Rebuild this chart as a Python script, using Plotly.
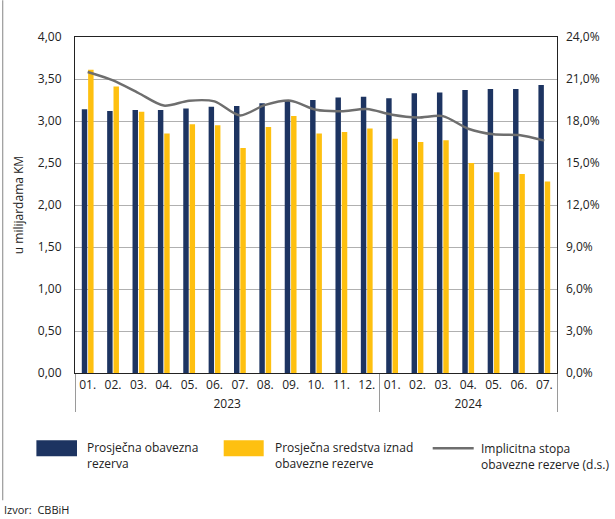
import plotly.graph_objects as go

years = ["2023"] * 12 + ["2024"] * 7
months = ["01.", "02.", "03.", "04.", "05.", "06.", "07.", "08.", "09.", "10.", "11.", "12.",
          "01.", "02.", "03.", "04.", "05.", "06.", "07."]

obavezna = [3.14, 3.12, 3.13, 3.13, 3.15, 3.17, 3.18, 3.21, 3.24, 3.25, 3.28, 3.29,
            3.27, 3.33, 3.34, 3.37, 3.38, 3.38, 3.43]
iznad = [3.61, 3.41, 3.11, 2.85, 2.96, 2.95, 2.68, 2.93, 3.06, 2.85, 2.87, 2.91,
         2.79, 2.75, 2.77, 2.50, 2.39, 2.37, 2.28]
stopa = [21.5, 20.9, 20.0, 19.1, 19.45, 19.4, 18.4, 19.15, 19.45, 18.8, 18.7, 18.85,
         18.45, 18.25, 18.35, 17.45, 17.05, 17.0, 16.6]

NAVY = "#1d3461"
GOLD = "#fec010"
GREY = "#6e6e6e"
FONT = "Open Sans"

x = [years, months]

fig = go.Figure()
fig.add_trace(go.Bar(x=x, y=obavezna, name="Prosječna obavezna rezerva",
                     marker=dict(color=NAVY, line=dict(width=0))))
fig.add_trace(go.Bar(x=x, y=iznad, name="Prosječna sredstva iznad obavezne rezerve",
                     marker=dict(color=GOLD, line=dict(width=0))))
fig.add_trace(go.Scatter(x=x, y=[v / 100 for v in stopa], yaxis="y2", mode="lines",
                         name="Implicitna stopa obavezne rezerve (d.s.)",
                         line=dict(color=GREY, width=2.5, shape="spline", smoothing=0.8)))

# paper-coordinate helpers (plot area: x 75..557, y 37..373 px)
L, R, T, B = 75.3, 557.3, 36.7, 372.7
def px(xp):
    return (xp - L) / (R - L)
def py(yp):
    return (B - yp) / (B - T)

shapes = [
    dict(type="line", xref="paper", yref="paper", x0=px(3), x1=px(3), y0=py(0), y1=py(500),
         line=dict(color="#9a9a9a", width=1.2)),
    dict(type="rect", xref="paper", yref="paper", x0=px(36.7), x1=px(77.3), y0=py(440), y1=py(456),
         fillcolor=NAVY, line=dict(width=0)),
    dict(type="rect", xref="paper", yref="paper", x0=px(224), x1=px(264), y0=py(440), y1=py(456),
         fillcolor=GOLD, line=dict(width=0)),
    dict(type="line", xref="paper", yref="paper", x0=px(433), x1=px(474), y0=py(448), y1=py(448),
         line=dict(color=GREY, width=2.5)),
]
ann_font = dict(family=FONT, size=12, color="#222222")
annotations = [
    dict(xref="paper", yref="paper", x=px(85), y=py(455), xanchor="left", yanchor="middle",
         text="Prosječna obavezna<br>rezerva", showarrow=False, align="left", font=ann_font),
    dict(xref="paper", yref="paper", x=px(273), y=py(455), xanchor="left", yanchor="middle",
         text="Prosječna sredstva iznad<br>obavezne rezerve", showarrow=False, align="left", font=ann_font),
    dict(xref="paper", yref="paper", x=px(479), y=py(456), xanchor="left", yanchor="middle",
         text="Implicitna stopa<br>obavezne rezerve (d.s.)", showarrow=False, align="left", font=ann_font),
    dict(xref="paper", yref="paper", x=px(2), y=py(509), xanchor="left", yanchor="middle",
         text="Izvor:  CBBiH", showarrow=False, align="left", font=dict(family=FONT, size=11, color="#222222")),
]

fig.update_layout(
    width=615, height=519,
    margin=dict(l=75, r=58, t=37, b=146),
    paper_bgcolor="white", plot_bgcolor="white",
    separators=", ",
    font=dict(family=FONT, size=12, color="#222222"),
    showlegend=False,
    barmode="group", bargap=0.5, bargroupgap=0.14,
    xaxis=dict(type="multicategory", showline=True, linecolor="#222222", linewidth=1.2, mirror=True,
               showgrid=False, ticks="", showdividers=True, dividercolor="#9a9a9a", dividerwidth=1,
               tickfont=dict(family=FONT, size=12, color="#222222")),
    yaxis=dict(range=[0, 4], dtick=0.5, tickformat=".2f", showline=True, linecolor="#222222",
               linewidth=1.2, mirror=True, showgrid=True, gridcolor="#b0b0b0", gridwidth=1,
               zeroline=False, ticks="", ticklabelstandoff=10,
               title=dict(text="u milijardama KM", standoff=11, font=dict(family=FONT, size=12))),
    yaxis2=dict(range=[0, 0.24], dtick=0.03, tickformat=".1%", overlaying="y", side="right",
                showgrid=False, zeroline=False, showline=False, ticks="", ticklabelstandoff=8),
    shapes=shapes, annotations=annotations,
)

fig.write_html("out.html", config={"displayModeBar": False},
               post_script="document.body.style.margin='0';document.body.style.overflow='hidden';")
